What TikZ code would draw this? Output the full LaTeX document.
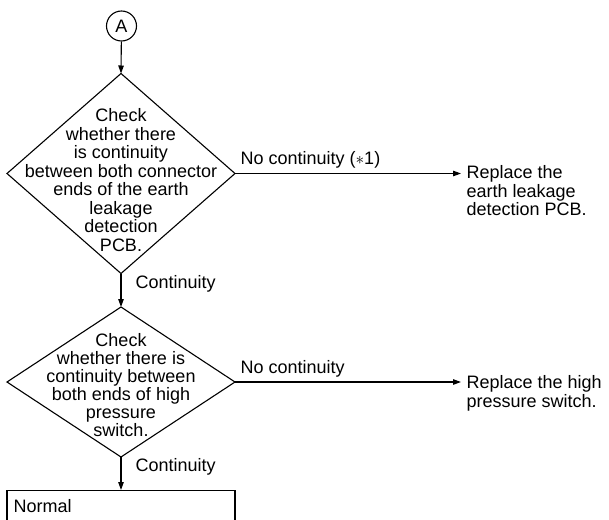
\documentclass[tikz,border=0pt]{standalone}
\usepackage{fontspec}
\setmainfont{Liberation Sans}
\usetikzlibrary{arrows.meta}
\begin{document}
\begin{tikzpicture}[x=1pt,y=-1pt, line width=1.1pt,
  font=\fontsize{18}{18.5}\selectfont,
  arr/.style={-{Triangle[length=8pt,width=5.5pt]}},
  lbl/.style={inner sep=0pt, anchor=base west},
  dtext/.style={inner sep=0pt, align=center},
  rtext/.style={inner sep=0pt, align=left, anchor=north west}]
\clip (0,0) rectangle (609,519);
% connector A
\node[draw, circle, minimum size=30pt, inner sep=0pt] (A) at (121.5,26) {A};
% decision 1
\coordinate (d1t) at (121,73.5);
\coordinate (d1l) at (7,173.5);
\coordinate (d1r) at (235,173.5);
\coordinate (d1b) at (121,273.5);
\draw (d1t) -- (d1r) -- (d1b) -- (d1l) -- cycle;
\node[dtext] (d1) at (121,180) {Check\\whether there\\is continuity\\between both connector\\ends of the earth\\leakage\\detection\\PCB.};
\draw[arr] (A) -- (d1t);
\coordinate (e1) at (461,173.5);
\draw[arr] (d1r) -- (e1);
\node[lbl] (l1) at (240,164) {No continuity ($\ast$1)};
\node[rtext] (r1) at (466,165) {Replace the\\earth leakage\\detection PCB.};
% decision 2
\coordinate (d2t) at (121,307);
\coordinate (d2l) at (7,382);
\coordinate (d2r) at (235,382);
\coordinate (d2b) at (121,457);
\draw (d2t) -- (d2r) -- (d2b) -- (d2l) -- cycle;
\node[dtext, font=\fontsize{18}{18}\selectfont] (d2) at (121,385.5) {Check\\whether there is\\continuity between\\both ends of high\\pressure\\switch.};
\draw[arr] (d1b) -- (d2t);
\node[lbl] (c1) at (135,288) {Continuity};
\coordinate (e2) at (461,382);
\draw[arr] (d2r) -- (e2);
\node[lbl] (l2) at (240,373) {No continuity};
\node[rtext] (r2) at (466,375) {Replace the high\\pressure switch.};
% normal box
\node[draw, minimum width=228pt, minimum height=60pt, anchor=north, inner sep=0pt] (nb) at (121,490) {};
\draw[arr] (d2b) -- (nb.north);
\node[lbl] (c2) at (135,471) {Continuity};
\node[lbl] (nt) at (13,512) {Normal};
\end{tikzpicture}
\end{document}
